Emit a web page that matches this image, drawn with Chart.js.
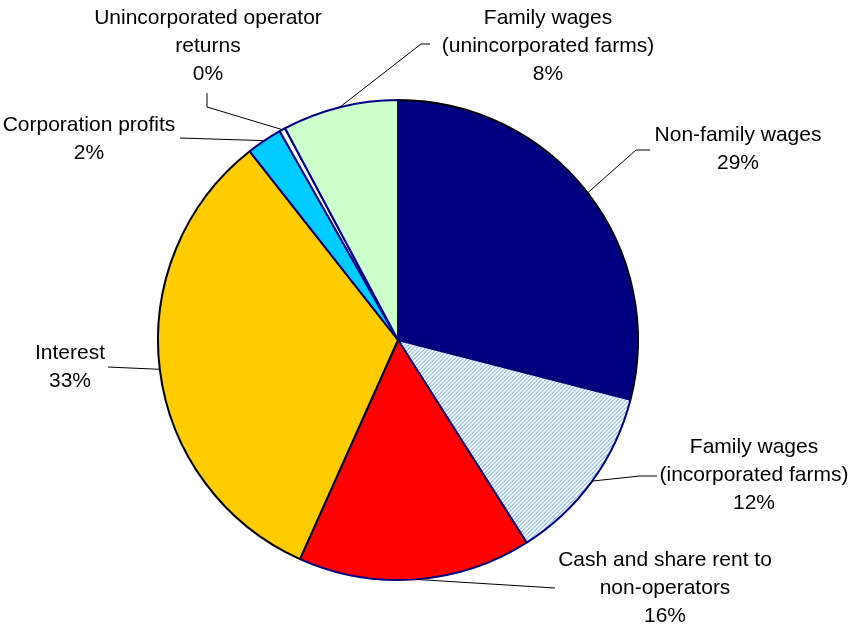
<!DOCTYPE html>
<html>
<head>
<meta charset="utf-8">
<script src="https://cdn.jsdelivr.net/npm/chart.js@4/dist/chart.umd.min.js"></script>
<style>
html,body{margin:0;padding:0;background:#fff;}
canvas{display:block;}
</style>
</head>
<body>
<canvas id="c" width="850" height="629"></canvas>
<script>
// ---- data ----
const categories = [
  "Non-family wages",
  "Family wages (incorporated farms)",
  "Cash and share rent to non-operators",
  "Interest",
  "Corporation profits",
  "Unincorporated operator returns",
  "Family wages (unincorporated farms)"
];
const shares = [29.0, 12.0, 15.7, 32.7, 2.4, 0.4, 7.8];
const percentLabels = ["29%", "12%", "16%", "33%", "2%", "0%", "8%"];
const labelLines = [
  ["Non-family wages"],
  ["Family wages", "(incorporated farms)"],
  ["Cash and share rent to", "non-operators"],
  ["Interest"],
  ["Corporation profits"],
  ["Unincorporated operator", "returns"],
  ["Family wages", "(unincorporated farms)"]
];

// ---- styles / layout ----
function hatch() {
  const t = document.createElement('canvas');
  t.width = 4; t.height = 4;
  const g = t.getContext('2d');
  const img = g.createImageData(4, 4);
  for (let y = 0; y < 4; y++) for (let x = 0; x < 4; x++) {
    const i = (y * 4 + x) * 4;
    const on = ((x + y) % 4) < 2;
    img.data[i] = on ? 0xa4 : 255;
    img.data[i+1] = on ? 0xcc : 255;
    img.data[i+2] = on ? 0xf6 : 255;
    img.data[i+3] = 255;
  }
  g.putImageData(img, 0, 0);
  return document.getElementById('c').getContext('2d').createPattern(t, 'repeat');
}
const fills = ["#000080", hatch(), "#FF0000", "#FFCC00", "#00CCFF", "#FFFFFF", "#CCFFCC"];
const borders = ["#000000", "#000080", "#000080", "#000000", "#000080", "#000080", "#000080"];

// leader elbows and label centers (pixel layout)
const layout = [
  {path: [[636,150],[650,150]], cx: 738, y0: 135},
  {path: [[640,476],[657,476]], cx: 754, y0: 447},
  {path: [[555,588]], cx: 665, y0: 560},
  {path: [[108,367]], cx: 70, y0: 353},
  {path: [[180,138]], cx: 89, y0: 125},
  {path: [[207,107],[207,93]], cx: 208, y0: 18},
  {path: [[421,44],[430,44]], cx: 548, y0: 18}
];
const lineH = 28;

const labelPlugin = {
  id: 'pieLabels',
  afterDraw(chart) {
    const ctx = chart.ctx;
    const arcs = chart.getDatasetMeta(0).data;
    ctx.save();
    arcs.forEach((arc, i) => {
      const p = arc.getProps(['x','y','startAngle','endAngle','outerRadius'], true);
      const mid = (p.startAngle + p.endAngle) / 2;
      const ax = p.x + Math.cos(mid) * p.outerRadius;
      const ay = p.y + Math.sin(mid) * p.outerRadius;
      const L = layout[i];
      ctx.beginPath();
      ctx.strokeStyle = '#000';
      ctx.lineWidth = 1;
      ctx.moveTo(ax, ay);
      L.path.forEach(pt => ctx.lineTo(pt[0], pt[1]));
      ctx.stroke();
      ctx.fillStyle = '#000';
      ctx.font = '21px "Liberation Sans", Arial, sans-serif';
      ctx.textAlign = 'center';
      ctx.textBaseline = 'middle';
      const lines = labelLines[i].concat([percentLabels[i]]);
      lines.forEach((s, k) => ctx.fillText(s, L.cx, L.y0 + k * lineH));
    });
    ctx.restore();
  }
};

new Chart(document.getElementById('c'), {
  type: 'pie',
  data: {
    labels: categories,
    datasets: [{
      data: shares,
      backgroundColor: fills,
      borderColor: borders,
      borderWidth: 2
    }]
  },
  options: {
    responsive: false,
    animation: false,
    layout: {padding: {left: 157, right: 211, top: 99, bottom: 48}},
    plugins: {legend: {display: false}, tooltip: {enabled: false}}
  },
  plugins: [labelPlugin]
});
</script>
</body>
</html>
